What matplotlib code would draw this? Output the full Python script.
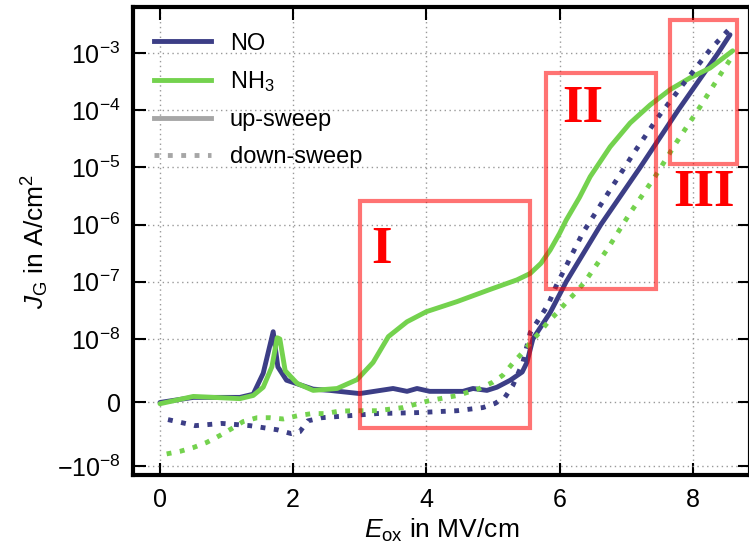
import numpy as np
import matplotlib.pyplot as plt
from matplotlib.lines import Line2D
from matplotlib.patches import Rectangle

plt.rcParams["font.family"] = ["Liberation Sans", "DejaVu Sans"]
plt.rcParams["mathtext.fontset"] = "custom"
plt.rcParams["mathtext.rm"] = "Liberation Sans"
plt.rcParams["mathtext.it"] = "Liberation Sans:italic"
plt.rcParams["font.size"] = 18

# Data, E in MV/cm, J in A/cm^2
no_up_e = [0.0, 0.5, 1.2, 1.4, 1.55, 1.7, 1.77, 1.9, 2.3, 2.55, 3.0, 3.5, 3.71, 3.86,
           4.05, 4.55, 4.7, 4.91, 5.06, 5.26, 5.44, 5.51, 5.6, 5.86, 6.1, 6.62, 7.21,
           7.78, 8.38, 8.56]
no_up_j = [0.0, 8e-10, 8e-10, 1.3e-9, 4.6e-9, 1.34e-8, 5.6e-9, 3.5e-9, 2.1e-9, 1.9e-9,
           1.4e-9, 2.2e-9, 1.75e-9, 2.2e-9, 1.75e-9, 1.75e-9, 2.2e-9, 1.9e-9, 2.4e-9,
           3.5e-9, 4.8e-9, 6.3e-9, 1e-8, 2.9e-8, 1e-7, 1e-6, 1e-5, 1e-4, 1e-3, 2.1e-3]

no_down_e = [0.12, 0.53, 0.93, 1.35, 1.76, 1.97, 2.1, 2.22, 2.43, 2.82, 3.26, 3.86, 4.46,
             4.85, 5.03, 5.18, 5.3, 5.45, 5.56, 5.83, 5.95, 6.35, 6.79, 7.13, 7.48, 7.85,
             8.26, 8.53]
no_down_j = [-2.7e-9, -3.65e-9, -3.3e-9, -3.65e-9, -4.3e-9, -4.9e-9, -4.6e-9, -2.9e-9,
             -2.4e-9, -2.1e-9, -1.75e-9, -1.6e-9, -1.3e-9, -0.8e-9, -0.16e-9, 0.8e-9,
             2.7e-9, 6.3e-9, 1.29e-8, 4.0e-8, 8.5e-8, 7.2e-7, 4.6e-6, 1.9e-5, 7.6e-5,
             2.8e-4, 1.15e-3, 2.5e-3]

nh3_up_e = [0.0, 0.5, 1.2, 1.4, 1.55, 1.68, 1.76, 1.8, 1.88, 2.06, 2.3, 2.66, 2.96, 3.2,
            3.43, 3.71, 4.0, 4.46, 4.95, 5.36, 5.56, 5.72, 5.86, 6.0, 6.1, 6.3, 6.46,
            6.76, 7.06, 7.36, 7.66, 7.96, 8.26, 8.6]
nh3_up_j = [-2e-10, 9.5e-10, 6e-10, 1.1e-9, 2.4e-9, 5.6e-9, 1.05e-8, 1e-8, 5e-9, 3e-9,
            1.9e-9, 2.2e-9, 3.6e-9, 6.3e-9, 1.1e-8, 2.0e-8, 3.0e-8, 4.5e-8, 7.3e-8,
            1.08e-7, 1.4e-7, 2.1e-7, 3.6e-7, 7e-7, 1.2e-6, 3.0e-6, 6.9e-6, 2.3e-5, 6e-5,
            1.24e-4, 2.3e-4, 3.7e-4, 5.5e-4, 1.1e-3]

nh3_down_e = [0.1, 0.3, 0.5, 0.7, 0.9, 1.08, 1.25, 1.46, 1.65, 1.85, 2.06, 2.28, 2.48,
              2.67, 2.88, 3.26, 3.65, 4.05, 4.47, 4.8, 5.0, 5.15, 5.3, 5.44, 5.56, 5.71,
              5.83, 5.98, 6.11, 6.26, 6.38, 6.73, 7.06, 7.43, 7.76, 8.11, 8.44, 8.6]
nh3_down_j = [-8.1e-9, -7.7e-9, -7.1e-9, -6.3e-9, -5.2e-9, -4.1e-9, -3.0e-9, -2.4e-9,
              -2.4e-9, -2.6e-9, -2.1e-9, -1.75e-9, -1.75e-9, -1.4e-9, -1.3e-9, -1.3e-9,
              -0.8e-9, 0.3e-9, 1.1e-9, 2.2e-9, 3.2e-9, 4.3e-9, 6.2e-9, 7.8e-9, 9.4e-9,
              1.34e-8, 2.0e-8, 3.0e-8, 4.5e-8, 6.8e-8, 1e-7, 3.9e-7, 1.6e-6, 6.8e-6,
              2.8e-5, 1.15e-4, 4.7e-4, 9e-4]

# regions: (E_left, E_right, J_bottom, J_top)
regions = [(3.0, 5.55, -4e-9, 2.6e-6), (5.8, 7.45, 7.6e-8, 4.5e-4), (7.66, 8.66, 1.16e-5, 3.8e-3)]
region_labels = ["I", "II", "III"]
region_label_pos = [(3.32, 3.6e-7), (6.35, 1.05e-4), (8.17, 3.6e-6)]

c_no = "#3c3e86"
c_nh3 = "#74d24e"
c_gray = "#a6a6a6"
lw = 3.5
dot = (0, (1, 1.75))

fig = plt.figure(figsize=(7.49, 5.46), dpi=100)
ax = fig.add_axes([0.1776, 0.130, 0.8237, 0.857])

ax.plot(no_up_e, no_up_j, color=c_no, lw=lw, solid_capstyle="round")
ax.plot(nh3_up_e, nh3_up_j, color=c_nh3, lw=lw, solid_capstyle="round")
ax.plot(no_down_e, no_down_j, color=c_no, lw=lw, linestyle=dot, dash_capstyle="butt")
ax.plot(nh3_down_e, nh3_down_j, color=c_nh3, lw=lw, linestyle=dot, dash_capstyle="butt")

ax.set_yscale("symlog", linthresh=1e-8, linscale=1)
ax.set_xlim(-0.405, 8.86)
ax.set_ylim(-1.44e-8, 6.4e-3)
ax.set_yticks([-1e-8, 0, 1e-8, 1e-7, 1e-6, 1e-5, 1e-4, 1e-3])
ax.yaxis.set_minor_locator(plt.NullLocator())
ax.set_xticks([0, 2, 4, 6, 8])

for (x0, x1, y0, y1), lab, (tx, ty) in zip(regions, region_labels, region_label_pos):
    ax.add_patch(Rectangle((x0, y0), x1 - x0, y1 - y0, fill=False, edgecolor="red",
                           alpha=0.55, lw=3, zorder=5))
    ax.text(tx, ty, lab, color="red", fontsize=38, family="Liberation Serif",
            fontweight="bold", ha="center", va="center", zorder=6)

ax.grid(True, linestyle=(0, (1, 2.5)), color="#999999", lw=1)
for s in ax.spines.values():
    s.set_linewidth(3)
ax.tick_params(which="major", direction="in", length=9, width=1.5, top=True,
               right=True, pad=9, labelsize=18)

ax.set_xlabel(r"$E_\mathrm{ox}$ in MV/cm", fontsize=19)
ax.set_ylabel(r"$J_\mathrm{G}$ in A/cm$^2$", fontsize=19)

handles = [
    Line2D([], [], color=c_no, lw=lw),
    Line2D([], [], color=c_nh3, lw=lw),
    Line2D([], [], color=c_gray, lw=lw),
    Line2D([], [], color=c_gray, lw=lw, linestyle=dot, dash_capstyle="butt"),
]
ax.legend(handles, ["NO", r"NH$_3$", "up-sweep", "down-sweep"], loc="upper left",
          frameon=False, fontsize=17, handlelength=2.4, labelspacing=0.63,
          bbox_to_anchor=(0.0, 0.991))

fig.savefig("out.png", dpi=100)
